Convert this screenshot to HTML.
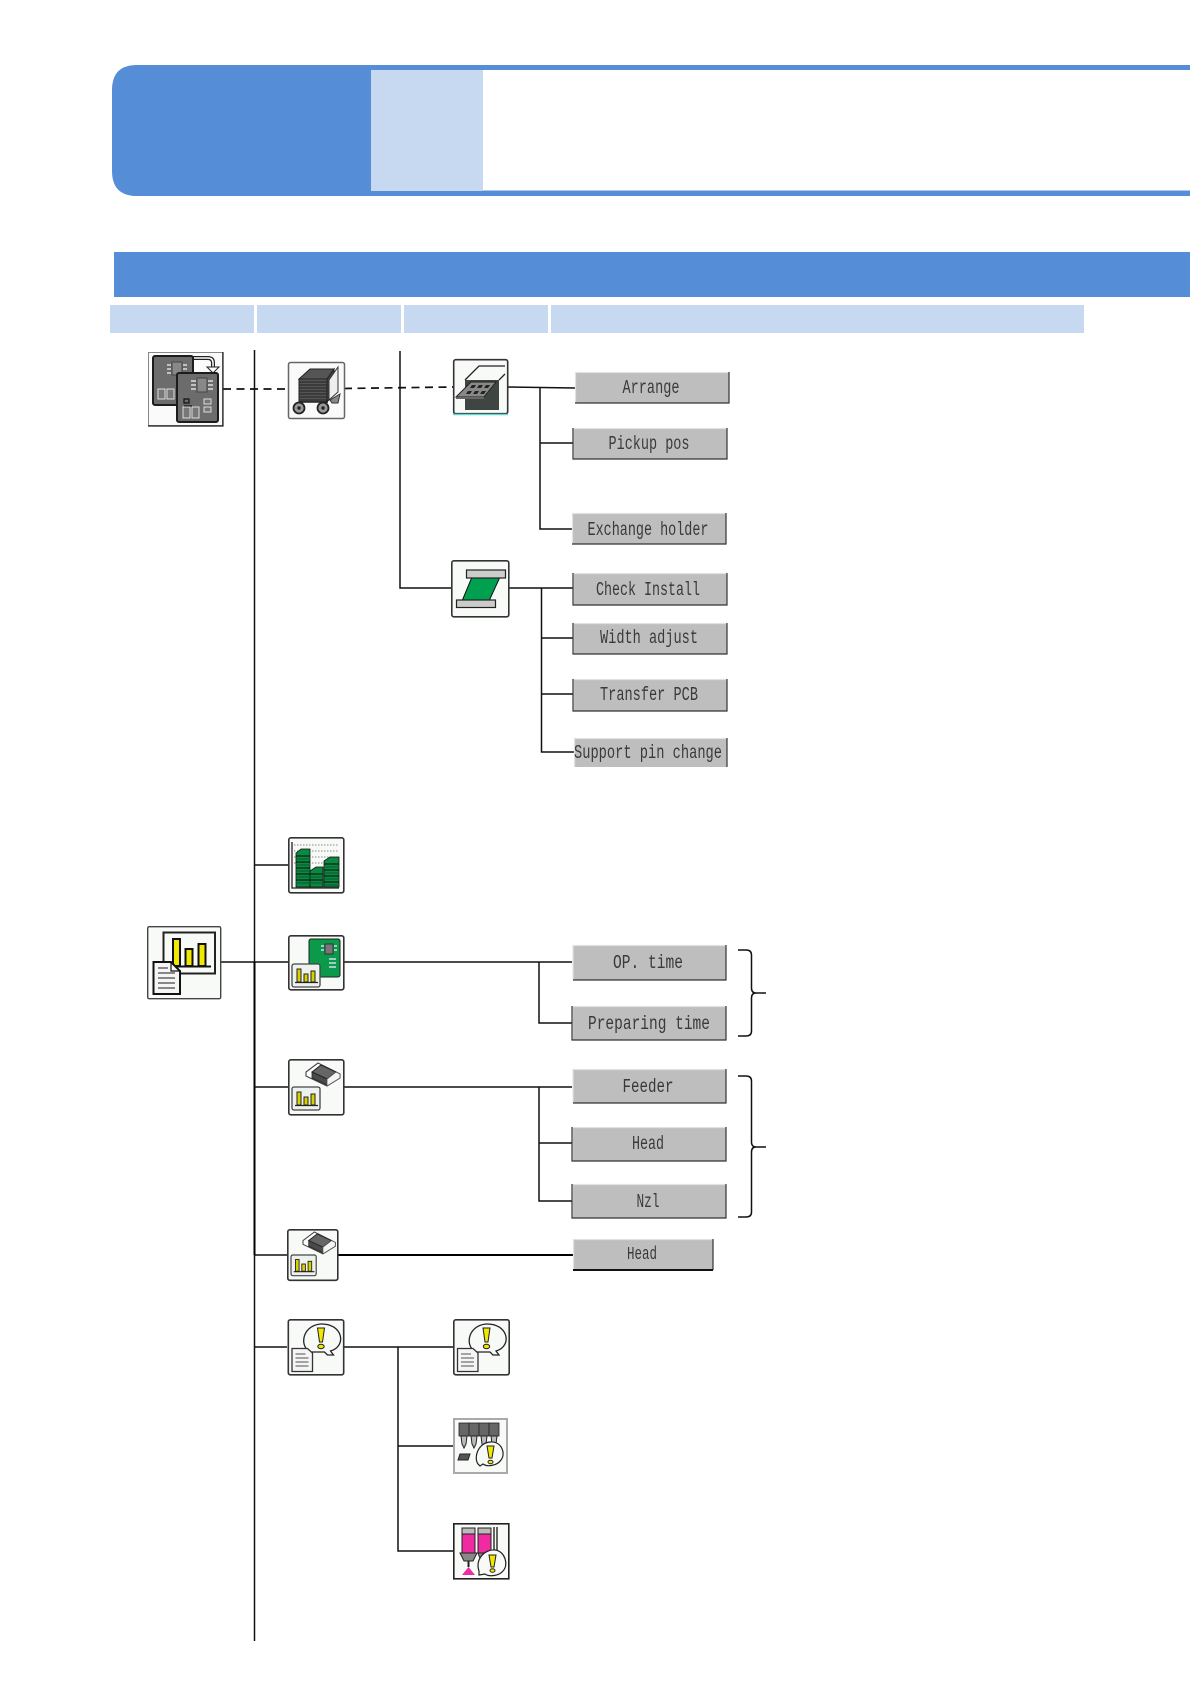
<!DOCTYPE html>
<html><head><meta charset="utf-8"><style>
html,body{margin:0;padding:0;background:#fff}
svg{display:block}
.ln{stroke:#111;stroke-width:1.5;fill:none}
.th{stroke:#000;stroke-width:2;fill:none}
.da{stroke:#111;stroke-width:1.7;fill:none;stroke-dasharray:8 5.5}
.b{fill:#bebebe}
.hi{stroke:#e2e2e2;stroke-width:1.2;fill:none}
.sh{stroke:#333;stroke-width:1.2;fill:none}
.t{font-family:"Liberation Mono",monospace;font-size:19px;fill:#3a3a3a;text-anchor:middle}
.box{fill:#f7faf7;stroke:#333;stroke-width:1.6}
</style></head><body>
<svg width="1190" height="1684" viewBox="0 0 1190 1684" xmlns="http://www.w3.org/2000/svg">
<defs>
<g id="mini"><rect x="0" y="0" width="28" height="23" rx="2" fill="#eef2ee" stroke="#444" stroke-width="1.3"/>
<g fill="#d8d000" stroke="#222" stroke-width="1"><rect x="5" y="5" width="4" height="13"/><rect x="12" y="10" width="4" height="8"/><rect x="19" y="7" width="4" height="11"/></g><path d="M3 18.500H26" stroke="#222" stroke-width="1.200"/></g>
<g id="chip">
<path d="M0 9L12 0L34 11V15L21 23L0 13Z" fill="#fff" stroke="#444" stroke-width="1.100"/>
<path d="M6 9L15 2L30 9L21 16Z" fill="#666" stroke="#222" stroke-width="1"/>
<path d="M6 9L21 16V22L6 15Z" fill="#4a4a4a" stroke="#222" stroke-width=".8"/>
<path d="M21 16L30 9L34 11V15L21 23Z" fill="#f4f4f4" stroke="#555" stroke-width=".8"/>
</g>
<g id="warn"><rect x=".8" y=".8" width="55.400" height="55" rx="2" class="box"/>
<path d="M24 33C12 30 13 7 33 5C55 4 60 27 43 32L46 36L40 36L37 33Z" fill="#f7faf7" stroke="#222" stroke-width="1.300"/>
<path d="M30 9H37L35 23H32Z" fill="#f0e800" stroke="#222" stroke-width="1"/><ellipse cx="33.500" cy="27.500" rx="3.200" ry="2.200" fill="#f0e800" stroke="#222"/>
<path d="M4.500 29.500H20L25 34V52.500H4.500Z" fill="#f5f5f5" stroke="#333" stroke-width="1.300"/>
<path d="M8 35H18M8 39H21M8 43H21M8 47H21" stroke="#999" stroke-width="1.800"/></g>
</defs>

<!-- header -->
<path d="M1190 65H137Q112 65 112 90V171Q112 196 137 196H1190V190.500H371V70H1190Z" fill="#558dd6"/>
<rect x="371" y="70" width="112" height="121" fill="#c6d9f1"/>
<rect x="114" y="252" width="1076" height="45" fill="#558dd6"/>
<g fill="#c6d9f1"><rect x="110" y="305" width="144" height="28"/><rect x="257" y="305" width="144" height="28"/><rect x="404" y="305" width="144" height="28"/><rect x="551" y="305" width="533" height="28"/></g>

<!-- connectors -->
<path class="ln" d="M254.500 350V1641"/>
<path class="ln" d="M400 351V588H451"/>
<path class="da" d="M223 389H288M344 388.500L453 387"/>
<path class="ln" d="M508 387L575 388M540 387V529H572M540 443H573"/>
<path class="ln" d="M509 588H573M541.500 588V752H574M541.500 638H573M541.500 694H573"/>
<path class="ln" d="M254 865H288"/>
<path class="ln" d="M221 962H288M344 962H572M539 962V1023H572"/>
<path class="th" d="M254.500 962V1255"/>
<path class="ln" d="M254 1087H288M344 1087H572M539 1087V1201H572M539 1143H572"/>
<path class="ln" d="M254 1255H287"/>
<path class="th" d="M338 1255H573"/>
<path class="ln" d="M254 1347H287M344 1347H453M398 1347V1551H453M398 1446H453"/>

<!-- braces -->
<path class="ln" d="M738 950H746Q751.500 950 751.500 955V988Q751.500 993 756 993H766M756 993Q751.500 993 751.500 998V1031Q751.500 1036 746 1036H738"/>
<path class="ln" d="M738 1076H746Q751.500 1076 751.500 1081V1142Q751.500 1147 756 1147H766M756 1147Q751.500 1147 751.500 1152V1212Q751.500 1217 746 1217H738"/>

<!-- buttons -->
<g>
<rect class="b" x="575" y="372" width="154" height="31"/><path class="hi" d="M575.500 403V372.500H729"/><path class="sh" d="M729 372V403H575"/>
<text class="t" x="651" y="393" textLength="57" lengthAdjust="spacingAndGlyphs">Arrange</text>
<rect class="b" x="573" y="428" width="154" height="31"/><path class="hi" d="M573.500 459V428.500H727"/><path class="sh" d="M727 428V459H573V428"/>
<text class="t" x="649" y="449" textLength="81" lengthAdjust="spacingAndGlyphs">Pickup pos</text>
<rect class="b" x="572" y="513" width="154" height="31"/><path class="hi" d="M572.500 544V513.500H726"/><path class="sh" d="M726 513V544H572"/>
<text class="t" x="648" y="535" textLength="121" lengthAdjust="spacingAndGlyphs">Exchange holder</text>
<rect class="b" x="573" y="573" width="154" height="32"/><path class="hi" d="M573.500 605V573.500H727"/><path class="sh" d="M727 573V605H573V573"/>
<text class="t" x="648" y="595" textLength="104" lengthAdjust="spacingAndGlyphs">Check Install</text>
<rect class="b" x="573" y="623" width="154" height="31"/><path class="hi" d="M573.500 654V623.500H727"/><path class="sh" d="M727 623V654H573V623"/>
<text class="t" x="649" y="643" textLength="98" lengthAdjust="spacingAndGlyphs">Width adjust</text>
<rect class="b" x="573" y="679" width="154" height="32"/><path class="hi" d="M573.500 711V679.500H727"/><path class="sh" d="M727 679V711H573V679"/>
<text class="t" x="649" y="700" textLength="98" lengthAdjust="spacingAndGlyphs">Transfer PCB</text>
<rect class="b" x="574" y="738" width="153" height="29"/><path class="hi" d="M574.500 767V738.500H727"/><path class="sh" d="M727 738V767"/>
<text class="t" x="648" y="758" textLength="148" lengthAdjust="spacingAndGlyphs">Support pin change</text>

<rect class="b" x="572.500" y="945" width="153.500" height="35"/><path class="hi" d="M573 980V945.500H726"/><path class="sh" d="M726 945V980H573"/>
<text class="t" x="648" y="968" textLength="70" lengthAdjust="spacingAndGlyphs">OP. time</text>
<rect class="b" x="572" y="1006" width="154" height="34"/><path class="hi" d="M572.500 1040V1006.500H726"/><path class="sh" d="M726 1006V1040H572V1006"/>
<text class="t" x="649" y="1029" textLength="122" lengthAdjust="spacingAndGlyphs">Preparing time</text>
<rect class="b" x="572.500" y="1069" width="153.500" height="34"/><path class="hi" d="M573 1103V1069.500H726"/><path class="sh" d="M726 1069V1103H573"/>
<text class="t" x="648" y="1092" textLength="51" lengthAdjust="spacingAndGlyphs">Feeder</text>
<rect class="b" x="572" y="1127" width="154" height="34"/><path class="hi" d="M572.500 1161V1127.500H726"/><path class="sh" d="M726 1127V1161H572V1127"/>
<text class="t" x="648" y="1149" textLength="32" lengthAdjust="spacingAndGlyphs">Head</text>
<rect class="b" x="572" y="1184" width="154" height="34"/><path class="hi" d="M572.500 1218V1184.500H726"/><path class="sh" d="M726 1184V1218H572V1184"/>
<text class="t" x="648" y="1207" textLength="23" lengthAdjust="spacingAndGlyphs">Nzl</text>
<rect class="b" x="573" y="1239" width="140" height="31"/><path class="hi" d="M573.500 1270V1239.500H713"/><path class="sh" d="M713 1239V1270"/><path d="M573 1270H713" stroke="#111" stroke-width="2"/>
<text class="t" x="642" y="1259" style="font-size:18px" textLength="30" lengthAdjust="spacingAndGlyphs">Head</text>
</g>

<!-- icon: pcb copies -->
<g transform="translate(148,352)">
<rect x=".5" y=".5" width="74" height="73" fill="#fafafa" stroke="#888" stroke-width="1"/><path d="M75 0V74H0" stroke="#222" stroke-width="1.200" fill="none"/>
<path d="M44 6H60Q65 6 65 11V16" stroke="#222" stroke-width="4" fill="none"/><path d="M44 6H60Q65 6 65 11V16" stroke="#fff" stroke-width="1.500" fill="none"/>
<path d="M59 15H71L65 21Z" fill="#fff" stroke="#222"/>
<rect x="5" y="4" width="40" height="49" rx="2" fill="#6c6c6c" stroke="#1c1c1c" stroke-width="2"/>
<rect x="24" y="10" width="10" height="13" fill="#888" stroke="#444"/><path d="M19 13H23M19 17H23M19 21H23M35 13H39M35 17H39" stroke="#ddd" stroke-width="1.500"/>
<rect x="10" y="37" width="7" height="10" fill="#777" stroke="#ddd"/><rect x="19" y="37" width="7" height="10" fill="#777" stroke="#ddd"/>
<rect x="29" y="21" width="41" height="49" rx="2" fill="#6c6c6c" stroke="#1c1c1c" stroke-width="2"/>
<rect x="49" y="26" width="10" height="14" fill="#888" stroke="#444"/><path d="M43 29H48M43 33H48M43 37H48M60 29H65M60 33H65M60 37H65" stroke="#ddd" stroke-width="1.500"/>
<path d="M36 47H41V51H36ZM36 54H44" stroke="#111" stroke-width="1.200" fill="none"/>
<rect x="35" y="55" width="7" height="11" fill="#777" stroke="#ddd"/><rect x="44" y="55" width="7" height="11" fill="#777" stroke="#ddd"/>
<rect x="56" y="47" width="7" height="5" fill="#777" stroke="#ddd"/><rect x="56" y="55" width="7" height="5" fill="#777" stroke="#ddd"/>
</g>

<!-- icon: cart -->
<g transform="translate(288,362)">
<rect x=".5" y=".5" width="56" height="56" rx="2" fill="#fafafa" stroke="#666" stroke-width="1.500"/>
<path d="M11 17L22 7H46L39 17Z" fill="#555" stroke="#222"/>
<rect x="11" y="17" width="28" height="23" fill="#555" stroke="#222"/>
<path d="M39 17L46 7V30L39 40Z" fill="#444" stroke="#222"/>
<path d="M11 20H39M11 23H39M11 26H39M11 29H39M11 32H39M11 35H39M11 38H39" stroke="#222" stroke-width="1"/>
<path d="M41 18L50 5V30L41 38Z" fill="#eee" stroke="#333"/>
<path d="M42 38L52 32L50 41L44 41Z" fill="#888" stroke="#333"/>
<circle cx="11" cy="46" r="5.500" fill="#999" stroke="#222" stroke-width="1.800"/><circle cx="11" cy="46" r="1.700" fill="#222"/>
<circle cx="35" cy="46" r="5.500" fill="#999" stroke="#222" stroke-width="1.800"/><circle cx="35" cy="46" r="1.700" fill="#222"/>
<path d="M11 40H40" stroke="#222" stroke-width="1.500"/>
</g>

<!-- icon: feeder -->
<g transform="translate(453,359)">
<rect x=".7" y=".7" width="54" height="54" rx="2" class="box"/>
<path d="M0 55.500H55" stroke="#5fd8d0" stroke-width="1.500"/>
<rect x="12" y="21" width="34" height="30" fill="#3f4540"/>
<path d="M12 21L26 7H52M46 21L52 15" stroke="#222" stroke-width="1.300" fill="none"/>
<path d="M3 38L18 23H43L31 38Z" fill="#888" stroke="#222" stroke-width="1"/>
<path d="M3 38H31V40H3Z" fill="#666"/>
<g fill="#222"><path d="M19 26h4l-2 3h-4zM26 26h4l-2 3h-4zM33 26h4l-2 3h-4zM15 32h4l-2 3h-4zM22 32h4l-2 3h-4zM29 32h4l-2 3h-4z"/></g>
</g>

<!-- icon: pcb transfer -->
<g transform="translate(451,560)">
<rect x=".8" y=".8" width="57" height="56" rx="2" class="box"/>
<path d="M21 17H49L38 41H11Z" fill="#00a050" stroke="#111" stroke-width="1"/>
<rect x="15.500" y="10" width="39" height="8" fill="#ccc" stroke="#222" stroke-width="1.200"/>
<rect x="5.500" y="40" width="39" height="7.500" fill="#ccc" stroke="#222" stroke-width="1.200"/>
</g>

<!-- icon: green chart -->
<g transform="translate(288,837)">
<rect x=".8" y=".8" width="55" height="55" rx="2" class="box"/>
<path d="M6 8H50M6 14H50M6 20H50M6 26H50" stroke="#888" stroke-width="1" stroke-dasharray="1.500 1.500"/>
<path d="M4 5V51H51" stroke="#222" stroke-width="1.300" fill="none"/>
<g stroke="#111" stroke-width=".8">
<path d="M8 16L13 12H22V50H8Z" fill="#0a8a40"/>
<path d="M22 34L28 30H35V50H22Z" fill="#0a8a40"/>
<path d="M36 24L42 20H51V50H36Z" fill="#0a8a40"/>
</g>
<path d="M8 19H22M8 22H22M8 25H22M8 28H22M8 31H22M8 34H22M8 37H22M8 40H22M8 43H22M8 46H22M22 37H35M22 40H35M22 43H35M22 46H35M36 27H51M36 30H51M36 33H51M36 36H51M36 39H51M36 42H51M36 45H51M36 48H51" stroke="#063" stroke-width="1.200"/>
<path d="M8 19H22M8 25H22M8 31H22M8 37H22M8 43H22M22 37H35M22 43H35M36 27H51M36 33H51M36 39H51M36 45H51" stroke="#111" stroke-width="1"/>
</g>

<!-- icon: big chart -->
<g transform="translate(147,926)">
<rect x=".7" y=".7" width="73" height="72" rx="1.500" fill="#f7faf7" stroke="#444" stroke-width="1.400"/>
<rect x="16.500" y="6.500" width="51.500" height="41" fill="#f7faf7" stroke="#222" stroke-width="2"/>
<g fill="#f0e800" stroke="#111" stroke-width="2"><rect x="26" y="13" width="7" height="27"/><rect x="38.500" y="23" width="7" height="17"/><rect x="51.500" y="18" width="7" height="22"/></g>
<path d="M24 40.500H64" stroke="#111" stroke-width="2"/>
<path d="M6.500 36H24L33 45V68H6.500Z" fill="#f5f5f5" stroke="#111" stroke-width="2"/>
<path d="M24 36V45H33" fill="none" stroke="#111" stroke-width="1.200"/>
<path d="M11 42H21M11 47H28M11 52H28M11 57H28M11 62H28" stroke="#888" stroke-width="2"/>
</g>

<!-- icon: pcb + chart -->
<g transform="translate(288,935)">
<rect x=".8" y=".8" width="55" height="54" rx="2" class="box"/>
<rect x="21" y="4" width="31" height="38" rx="2" fill="#0a9a4a" stroke="#222" stroke-width="1"/>
<rect x="37" y="9" width="8" height="10" fill="#777" stroke="#333"/>
<path d="M33 11H36M33 15H36M46 11H49M46 15H49M41 24H48M41 28H48M41 32H48" stroke="#cde" stroke-width="1.500"/>
<use href="#mini" transform="translate(4,29)"/>
</g>

<!-- icon: chip + chart -->
<g transform="translate(288,1059)">
<rect x=".8" y=".8" width="55" height="55" rx="2" class="box"/>
<use href="#chip" transform="translate(18,4)"/>
<use href="#mini" transform="translate(4,28)"/>
</g>

<!-- icon: chip + chart small -->
<g transform="translate(287,1229)">
<rect x=".8" y=".8" width="50" height="50.500" rx="2" class="box"/>
<use href="#chip" transform="translate(16,3) scale(.95)"/>
<use href="#mini" transform="translate(4,26) scale(.9)"/>
</g>

<!-- warnings -->
<use href="#warn" transform="translate(287.500,1319)"/>
<use href="#warn" transform="translate(453,1319)"/>

<!-- icon: nozzle warn -->
<g transform="translate(453,1418)">
<rect x="1" y="1" width="53" height="54" fill="#f7faf7" stroke="#aaa" stroke-width="2"/>
<g fill="#666" stroke="#222" stroke-width=".8"><rect x="6" y="5" width="10" height="13"/><rect x="16" y="5" width="10" height="13"/><rect x="26" y="5" width="10" height="13"/><rect x="36" y="5" width="10" height="13"/></g>
<path d="M8 18H14L13 26L11 30L9 26ZM18 18H24L23 26L21 30L19 26ZM28 18H34L33 26L31 30L29 26ZM38 18H44L43 26L41 30L39 26Z" fill="#bbb" stroke="#222" stroke-width="1"/>
<path d="M7 36H17L15 42H5Z" fill="#555" stroke="#222"/>
<path d="M26 47C20 42 24 25 37 24C49 23 53 36 48 42C44 48 34 49 30 46L27 48Z" fill="#f7faf7" stroke="#222" stroke-width="1.200"/>
<path d="M34 28H41L39 40H36Z" fill="#f0e800" stroke="#222"/><ellipse cx="37.500" cy="44" rx="2.500" ry="1.800" fill="#f0e800" stroke="#222"/>
</g>

<!-- icon: dispenser warn -->
<g transform="translate(453,1523)">
<rect x=".8" y=".8" width="55" height="55" fill="#f7faf7" stroke="#222" stroke-width="1.600"/>
<rect x="9" y="5" width="13" height="25" fill="#f02aa0" stroke="#222"/><rect x="9" y="5" width="13" height="6" fill="#bbb" stroke="#222"/>
<path d="M7 30H24L20 38H11Z" fill="#888" stroke="#222"/><path d="M15.500 38V44" stroke="#222" stroke-width="2"/>
<path d="M15.500 44L22 52H9Z" fill="#f02aa0"/>
<rect x="25" y="5" width="13" height="25" fill="#f02aa0" stroke="#222"/><rect x="25" y="5" width="13" height="6" fill="#bbb" stroke="#222"/>
<path d="M25 30H38L35 38H28Z" fill="#888" stroke="#222"/>
<path d="M41 4V30M44 4V30" stroke="#333" stroke-width="1.500"/>
<path d="M26 48C22 36 32 26 42 27C52 28 56 42 50 48C46 53 36 54 32 51L26 52Z" fill="#f7faf7" stroke="#222" stroke-width="1.200"/>
<path d="M36 32H43L41 44H38Z" fill="#f0e800" stroke="#222"/><ellipse cx="39.500" cy="47.500" rx="2.500" ry="1.800" fill="#f0e800" stroke="#222"/>
</g>
</svg>
</body></html>
